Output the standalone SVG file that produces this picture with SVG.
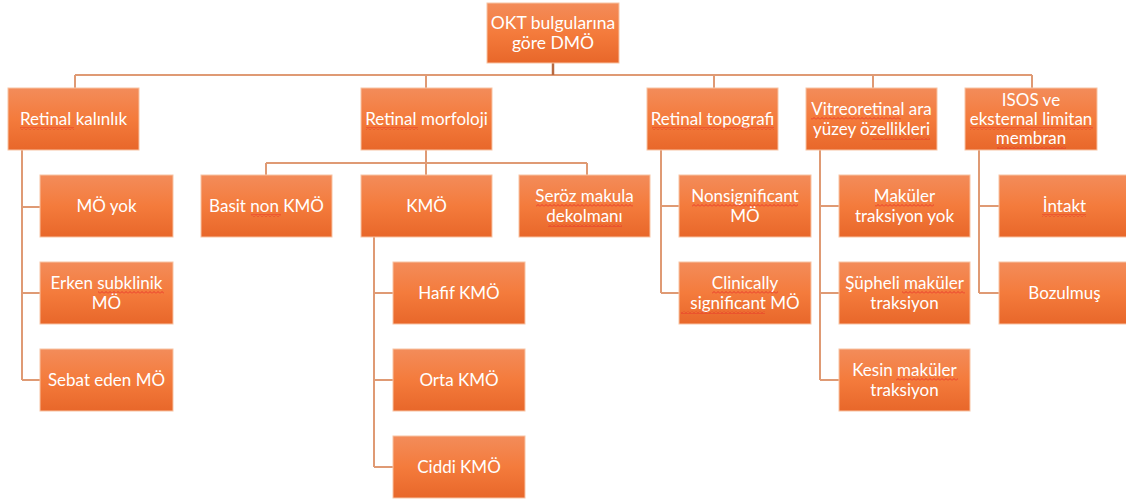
<svg xmlns="http://www.w3.org/2000/svg" width="1126" height="502" viewBox="0 0 1126 502">
<defs>
<linearGradient id="g" x1="0" y1="0" x2="0" y2="1">
<stop offset="0" stop-color="#F38C5A"/>
<stop offset="0.5" stop-color="#F47B3C"/>
<stop offset="1" stop-color="#E8672A"/>
</linearGradient>
<pattern id="w" x="0" y="0" width="4" height="3" patternUnits="userSpaceOnUse">
<path d="M0 2.5L2 0.5L4 2.5" fill="none" stroke="#E82828" stroke-width="0.9"/>
</pattern>
</defs>
<style>
.b{fill:url(#g);stroke:#F8C3A3;stroke-width:1}
.t{font-family:Lato,"Open Sans","Liberation Sans",sans-serif;font-size:17px;fill:#fff;text-anchor:middle}
.r{font-size:17.5px}
.c{fill:none;stroke:#DF9A74;stroke-width:2}
.cd{fill:none;stroke:#B86A42;stroke-width:2.5}
.s{fill:url(#w);opacity:0.85}
</style>
<rect width="1126" height="502" fill="#fff"/>
<g id="connectors">
<path class="c" d="M75 75H1032M75 75V88M426 75V88M714 75V88M873 75V88M1032 75V88"/>
<path class="cd" d="M553 63V75"/>
<path class="c" d="M22 150V380M22 207H40M22 293H40M22 380H40"/>
<path class="c" d="M426 150V163M266 163H587M266 163V175M426 163V175M587 163V175"/>
<path class="c" d="M374 237V467M374 293H393M374 380H393M374 467H393"/>
<path class="c" d="M661 150V293M661 206H679M661 293H679"/>
<path class="c" d="M820 150V380M820 206H839M820 293H839M820 380H839"/>
<path class="c" d="M979 150V293M979 206H999M979 293H999"/>
</g>
<g id="root"><rect class="b" x="487" y="3" width="132" height="60"/><text class="t r" x="553" y="29">OKT bulgularına</text><text class="t r" x="553" y="49">göre DMÖ</text></g>
<g id="n-kalinlik"><rect class="b" x="8" y="88" width="131" height="62"/><text class="t" x="73.5" y="125">Retinal kalınlık</text></g>
<g id="n-morfoloji"><rect class="b" x="361" y="88" width="131" height="62"/><text class="t" x="426.5" y="125">Retinal morfoloji</text></g>
<g id="n-topografi"><rect class="b" x="647" y="88" width="131" height="62"/><text class="t" x="712.5" y="125">Retinal topografi</text></g>
<g id="n-vitreo"><rect class="b" x="806" y="88" width="131" height="62"/><text class="t" x="871.5" y="115">Vitreoretinal ara</text><text class="t" x="871.5" y="135">yüzey özellikleri</text></g>
<g id="n-isos"><rect class="b" x="965" y="88" width="132" height="62"/><text class="t" x="1031" y="106">ISOS ve</text><text class="t" x="1031" y="125">eksternal limitan</text><text class="t" x="1031" y="144">membran</text></g>
<g id="n-moyok"><rect class="b" x="40" y="175" width="133" height="62"/><text class="t" x="106.5" y="212">MÖ yok</text></g>
<g id="n-erken"><rect class="b" x="40" y="262" width="133" height="62"/><text class="t" x="106.5" y="289">Erken subklinik</text><text class="t" x="106.5" y="309">MÖ</text></g>
<g id="n-sebat"><rect class="b" x="40" y="349" width="133" height="62"/><text class="t" x="106.5" y="386">Sebat eden MÖ</text></g>
<g id="n-basit"><rect class="b" x="201" y="175" width="131" height="62"/><text class="t" x="266.5" y="212">Basit non KMÖ</text></g>
<g id="n-kmo"><rect class="b" x="361" y="175" width="131" height="62"/><text class="t" x="426.5" y="212">KMÖ</text></g>
<g id="n-seroz"><rect class="b" x="519" y="175" width="131" height="62"/><text class="t" x="584.5" y="202">Seröz makula</text><text class="t" x="584.5" y="222">dekolmanı</text></g>
<g id="n-hafif"><rect class="b" x="393" y="262" width="132" height="62"/><text class="t" x="459" y="299">Hafif KMÖ</text></g>
<g id="n-orta"><rect class="b" x="393" y="349" width="132" height="62"/><text class="t" x="459" y="386">Orta KMÖ</text></g>
<g id="n-ciddi"><rect class="b" x="393" y="436" width="132" height="62"/><text class="t" x="459" y="473">Ciddi KMÖ</text></g>
<g id="n-nonsig"><rect class="b" x="679" y="175" width="132" height="62"/><text class="t" x="745" y="202">Nonsignificant</text><text class="t" x="745" y="222">MÖ</text></g>
<g id="n-clin"><rect class="b" x="679" y="262" width="132" height="62"/><text class="t" x="745" y="289">Clinically</text><text class="t" x="745" y="309">significant MÖ</text></g>
<g id="n-mak-yok"><rect class="b" x="839" y="175" width="131" height="62"/><text class="t" x="904.5" y="202">Maküler</text><text class="t" x="904.5" y="222">traksiyon yok</text></g>
<g id="n-suph"><rect class="b" x="839" y="262" width="131" height="62"/><text class="t" x="904.5" y="289">Şüpheli maküler</text><text class="t" x="904.5" y="309">traksiyon</text></g>
<g id="n-kesin"><rect class="b" x="839" y="349" width="131" height="62"/><text class="t" x="904.5" y="376">Kesin maküler</text><text class="t" x="904.5" y="396">traksiyon</text></g>
<g id="n-intakt"><rect class="b" x="999" y="175" width="131" height="62"/><text class="t" x="1064.5" y="212">İntakt</text></g>
<g id="n-bozulmus"><rect class="b" x="999" y="262" width="131" height="62"/><text class="t" x="1064.5" y="299">Bozulmuş</text></g>
<g id="spellcheck">
<rect class="s" x="20" y="127" width="54" height="3"/>
<rect class="s" x="366" y="127" width="52" height="3"/>
<rect class="s" x="652" y="127" width="122" height="3"/>
<rect class="s" x="811" y="117" width="90" height="3"/>
<rect class="s" x="872" y="137" width="58" height="3"/>
<rect class="s" x="970" y="127" width="123" height="3"/>
<rect class="s" x="997" y="146" width="69" height="3"/>
<rect class="s" x="251" y="214" width="30" height="3"/>
<rect class="s" x="536" y="204" width="97" height="3"/>
<rect class="s" x="548" y="224" width="74" height="3"/>
<rect class="s" x="98" y="291" width="66" height="3"/>
<rect class="s" x="692" y="204" width="106" height="3"/>
<rect class="s" x="712" y="291" width="66" height="3"/>
<rect class="s" x="681" y="311" width="84" height="3"/>
<rect class="s" x="875" y="204" width="59" height="3"/>
<rect class="s" x="902" y="291" width="63" height="3"/>
<rect class="s" x="896" y="378" width="62" height="3"/>
<rect class="s" x="1042" y="214" width="44" height="3"/>
</g>
</svg>
